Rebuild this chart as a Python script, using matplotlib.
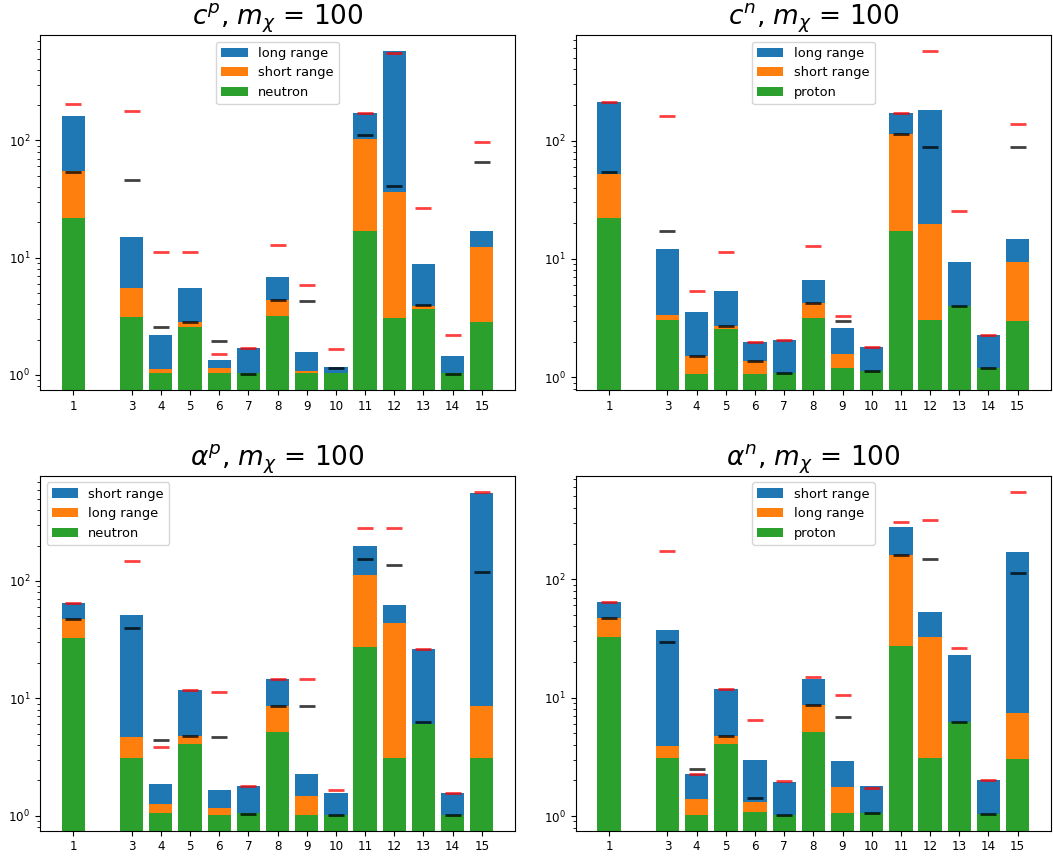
import matplotlib
matplotlib.use("Agg")
import matplotlib.pyplot as plt
import numpy as np

x = [1, 3, 4, 5, 6, 7, 8, 9, 10, 11, 12, 13, 14, 15]

# panel c^p
cp_long = [163, 15.1, 2.18, 5.47, 1.33, 1.70, 6.87, 1.58, 1.16, 172, 576, 8.75, 1.46, 16.9]
cp_short = [54.5, 5.5, 1.125, 2.83, 1.15, 1.03, 4.38, 1.08, 1.03, 102, 36.1, 3.9, 1.03, 12.3]
cp_nuc = [22.0, 3.12, 1.03, 2.58, 1.03, 1.03, 3.18, 1.03, 1.03, 17.0, 3.05, 3.62, 1.03, 2.83]
cp_red = [204, 177, 11.1, 11.1, 1.52, 1.70, 12.8, 5.87, 1.66, 172, 561, 26.6, 2.18, 97.4]
cp_black = [54.1, 45.7, 2.56, 2.81, 1.94, 1.02, 4.35, 4.26, 1.14, 111, 40.9, 3.94, 1.02, 65.8]

# panel c^n
cn_long = [210, 12.1, 3.53, 5.31, 1.97, 2.05, 6.70, 2.62, 1.80, 171, 181, 9.5, 2.26, 14.8]
cn_short = [51.7, 3.33, 1.52, 2.73, 1.38, 1.09, 4.23, 1.58, 1.13, 114, 19.7, 4.04, 1.19, 9.5]
cn_nuc = [22.0, 3.04, 1.07, 2.57, 1.07, 1.09, 3.16, 1.20, 1.13, 17.3, 3.04, 4.04, 1.19, 2.98]
cn_red = [210, 161, 5.41, 11.4, 1.97, 2.05, 12.9, 3.29, 1.80, 171, 566, 25.4, 2.26, 138]
cn_black = [54.4, 17.1, 1.52, 2.71, 1.38, 1.09, 4.23, 2.97, 1.13, 113, 87.3, 4.04, 1.19, 88.4]

# panel alpha^p
ap_short = [64.6, 51.4, 1.84, 11.8, 1.66, 1.77, 14.6, 2.26, 1.55, 197, 62.1, 26.5, 1.57, 565]
ap_long = [47.5, 4.70, 1.26, 4.76, 1.17, 1.05, 8.63, 1.46, 1.02, 112, 43.6, 6.07, 1.02, 8.63]
ap_nuc = [32.7, 3.12, 1.05, 4.05, 1.02, 1.05, 5.19, 1.02, 1.02, 27.3, 3.12, 6.07, 1.02, 3.12]
ap_red = [64.6, 148, 3.87, 11.8, 11.4, 1.77, 14.7, 14.5, 1.66, 281, 281, 26.5, 1.57, 572]
ap_black = [47.5, 39.3, 4.40, 4.76, 4.67, 1.04, 8.6, 8.6, 1.02, 153, 137, 6.23, 1.02, 120]

# panel alpha^n
an_short = [64.0, 37.2, 2.27, 11.9, 2.98, 1.95, 14.5, 2.94, 1.78, 274, 53.1, 22.9, 2.02, 169]
an_long = [47.2, 3.89, 1.40, 4.78, 1.32, 1.03, 8.67, 1.75, 1.06, 159, 32.2, 6.28, 1.05, 7.43]
an_nuc = [32.7, 3.12, 1.03, 4.04, 1.09, 1.03, 5.17, 1.06, 1.06, 27.3, 3.12, 6.28, 1.05, 3.04]
an_red = [64.0, 172, 2.27, 11.9, 6.44, 1.99, 14.8, 10.6, 1.74, 306, 316, 26.1, 2.02, 545]
an_black = [47.2, 29.5, 2.49, 4.78, 1.42, 1.03, 8.67, 6.92, 1.06, 159, 147, 6.28, 1.05, 113]

titles = [r"$c^p$, $m_\chi$ = 100", r"$c^n$, $m_\chi$ = 100",
          r"$\alpha^p$, $m_\chi$ = 100", r"$\alpha^n$, $m_\chi$ = 100"]

panels = [
    (cp_long, cp_short, cp_nuc, cp_red, cp_black, ["long range", "short range", "neutron"], "upper center"),
    (cn_long, cn_short, cn_nuc, cn_red, cn_black, ["long range", "short range", "proton"], "upper center"),
    (ap_short, ap_long, ap_nuc, ap_red, ap_black, ["short range", "long range", "neutron"], "upper left"),
    (an_short, an_long, an_nuc, an_red, an_black, ["short range", "long range", "proton"], "upper center"),
]

plt.rcParams['font.size'] = 8.6
fig, axes = plt.subplots(2, 2, figsize=(10.53, 8.59), dpi=100)
fig.subplots_adjust(left=0.038, right=0.998, top=0.959, bottom=0.033, wspace=0.128, hspace=0.242)

for ax, (b1, b2, b3, red, black, labels, loc), title in zip(axes.flat, panels, titles):
    ax.set_yscale('log')
    ax.bar(x, b1, width=0.8, color='tab:blue', label=labels[0])
    ax.bar(x, b2, width=0.8, color='tab:orange', label=labels[1])
    ax.bar(x, b3, width=0.8, color='tab:green', label=labels[2])
    ax.plot(x, black, linestyle='none', marker='_', color='black', ms=12, mew=2, alpha=0.75)
    ax.plot(x, red, linestyle='none', marker='_', color='red', ms=12, mew=2, alpha=0.75)
    ax.set_xticks(x)
    ax.set_xticklabels([str(v) for v in x])
    ax.set_title(title, fontsize=19)
    ax.legend(loc=loc, fontsize=9.4)

fig.savefig("out.png", dpi=100)
